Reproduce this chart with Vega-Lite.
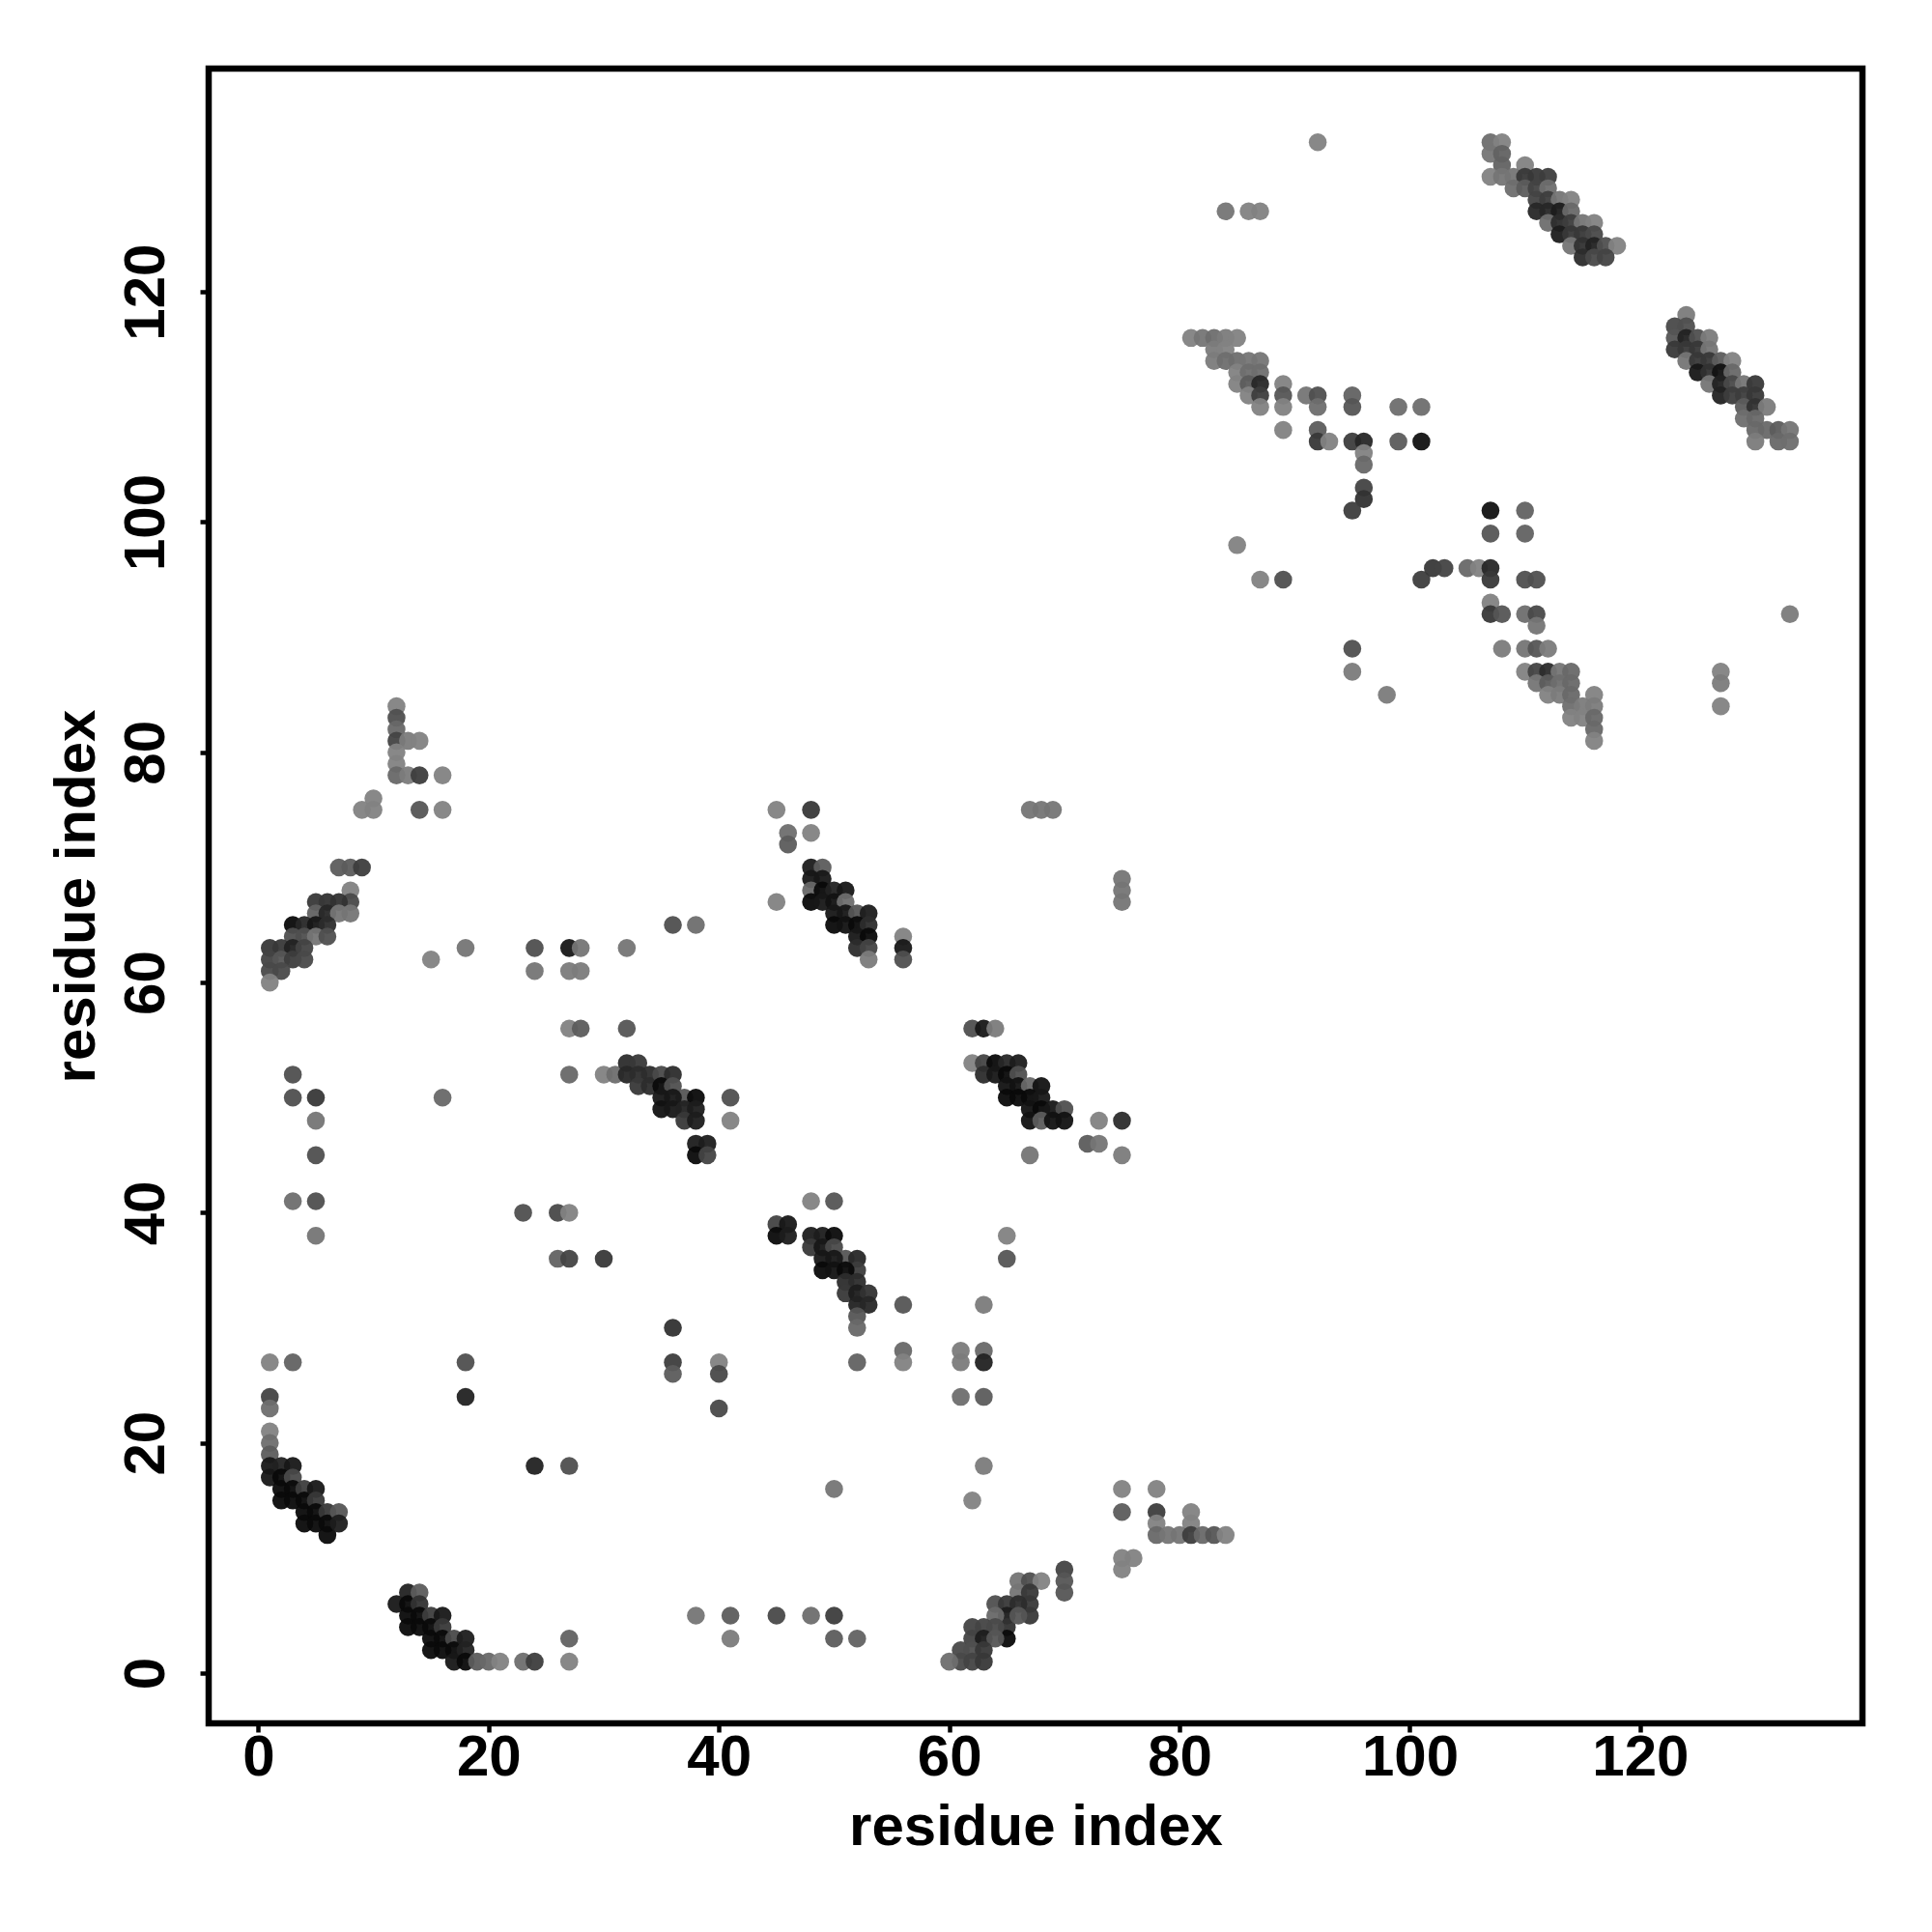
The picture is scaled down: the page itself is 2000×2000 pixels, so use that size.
{"$schema":"https://vega.github.io/schema/vega-lite/v6.json","width":1712,"height":1713,"autosize":{"type":"none"},"padding":{"left":216,"top":71,"right":72,"bottom":216},"background":"white","view":{"stroke":"black","strokeWidth":6.5,"fill":"white"},"config":{"font":"Liberation Sans"},
"data":{"values":[
{"x":1,"y":27,"d":1},{"x":3,"y":27,"d":0.75},{"x":18,"y":27,"d":0.6},{"x":18,"y":24,"d":0.2},{"x":1,"y":24,"d":0.5},{"x":1,"y":23,"d":0.85},{"x":1,"y":21,"d":1},{"x":1,"y":20,"d":0.85},{"x":1,"y":19,"d":0.7},{"x":1,"y":18,"d":0.1},{"x":1,"y":17,"d":0.1},{"x":2,"y":18,"d":0.2},{"x":3,"y":18,"d":0.1},{"x":2,"y":17,"d":0},{"x":2,"y":16,"d":0},{"x":2,"y":15,"d":0},{"x":3,"y":17,"d":0.55},{"x":3,"y":16,"d":0},{"x":3,"y":15,"d":0},{"x":4,"y":16,"d":0.45},{"x":4,"y":15,"d":0},{"x":4,"y":14,"d":0},{"x":4,"y":13,"d":0},{"x":5,"y":16,"d":0.1},{"x":5,"y":15,"d":0.4},{"x":5,"y":14,"d":0},{"x":5,"y":13,"d":0},{"x":6,"y":14,"d":0.4},{"x":6,"y":13,"d":0},{"x":6,"y":12,"d":0},{"x":7,"y":14,"d":0.65},{"x":7,"y":13,"d":0.15},{"x":24,"y":18,"d":0.2},{"x":27,"y":18,"d":0.6},
{"x":12,"y":6,"d":0.1},{"x":13,"y":7,"d":0.2},{"x":13,"y":6,"d":0},{"x":13,"y":5,"d":0},{"x":13,"y":4,"d":0},{"x":14,"y":7,"d":0.7},{"x":14,"y":6,"d":0.35},{"x":14,"y":5,"d":0},{"x":14,"y":4,"d":0},{"x":15,"y":5,"d":0.45},{"x":15,"y":4,"d":0},{"x":15,"y":3,"d":0},{"x":15,"y":2,"d":0},{"x":16,"y":5,"d":0.1},{"x":16,"y":4,"d":0.4},{"x":16,"y":3,"d":0},{"x":16,"y":2,"d":0},{"x":17,"y":3,"d":0.55},{"x":17,"y":2,"d":0},{"x":17,"y":1,"d":0.1},{"x":18,"y":3,"d":0.15},{"x":18,"y":2,"d":0.2},{"x":18,"y":1,"d":0},{"x":19,"y":1,"d":0.7},{"x":20,"y":1,"d":0.8},{"x":21,"y":1,"d":1},{"x":23,"y":1,"d":0.85},{"x":24,"y":1,"d":0.45},{"x":27,"y":3,"d":0.75},{"x":27,"y":1,"d":1},
{"x":65,"y":38,"d":1},{"x":65,"y":36,"d":0.65},{"x":56,"y":32,"d":0.65},{"x":63,"y":32,"d":0.95},{"x":56,"y":28,"d":0.8},{"x":56,"y":27,"d":1},{"x":61,"y":28,"d":0.95},{"x":61,"y":27,"d":0.95},{"x":63,"y":28,"d":0.8},{"x":63,"y":27,"d":0.2},{"x":61,"y":24,"d":0.85},{"x":63,"y":24,"d":0.7},{"x":63,"y":18,"d":0.95},{"x":62,"y":15,"d":1},{"x":75,"y":16,"d":1},{"x":78,"y":16,"d":1},{"x":75,"y":14,"d":0.7},{"x":78,"y":14,"d":0.45},{"x":81,"y":14,"d":1},{"x":78,"y":13,"d":1},{"x":81,"y":13,"d":1},{"x":78,"y":12,"d":0.8},{"x":79,"y":12,"d":0.9},{"x":80,"y":12,"d":0.9},{"x":81,"y":12,"d":0.45},{"x":82,"y":12,"d":0.8},{"x":83,"y":12,"d":0.65},{"x":84,"y":12,"d":1},{"x":75,"y":10,"d":1},{"x":76,"y":10,"d":1},{"x":75,"y":9,"d":1},{"x":70,"y":9,"d":0.5},{"x":70,"y":8,"d":0.65},{"x":70,"y":7,"d":0.65},{"x":66,"y":8,"d":0.9},{"x":67,"y":8,"d":0.6},{"x":68,"y":8,"d":1},{"x":66,"y":7,"d":0.9},{"x":67,"y":7,"d":0.4},{"x":67,"y":6,"d":0.4},{"x":67,"y":5,"d":0.4},{"x":64,"y":6,"d":0.6},{"x":65,"y":6,"d":0.4},{"x":66,"y":6,"d":0.3},{"x":65,"y":5,"d":0.15},{"x":65,"y":4,"d":0.35},{"x":65,"y":3,"d":0},{"x":66,"y":5,"d":0.65},{"x":64,"y":5,"d":0.8},{"x":62,"y":4,"d":0.5},{"x":63,"y":4,"d":0.5},{"x":64,"y":4,"d":0.55},{"x":62,"y":3,"d":0.5},{"x":63,"y":3,"d":0.15},{"x":64,"y":3,"d":0.65},{"x":61,"y":2,"d":0.55},{"x":62,"y":2,"d":0.6},{"x":63,"y":2,"d":0.4},{"x":61,"y":1,"d":0.55},{"x":62,"y":1,"d":0.5},{"x":63,"y":1,"d":0.4},{"x":60,"y":1,"d":0.85},{"x":50,"y":16,"d":0.9},
{"x":27,"y":56,"d":1},{"x":28,"y":56,"d":0.7},{"x":32,"y":56,"d":0.65},{"x":27,"y":52,"d":0.8},{"x":30,"y":52,"d":1},{"x":31,"y":52,"d":0.85},{"x":32,"y":53,"d":0.3},{"x":33,"y":53,"d":0.4},{"x":32,"y":52,"d":0.25},{"x":33,"y":52,"d":0.3},{"x":34,"y":52,"d":0.3},{"x":33,"y":51,"d":0.4},{"x":34,"y":51,"d":0.3},{"x":35,"y":52,"d":0.55},{"x":36,"y":52,"d":0.3},{"x":35,"y":51,"d":0},{"x":36,"y":51,"d":0.6},{"x":37,"y":50,"d":0.65},{"x":38,"y":50,"d":0},{"x":35,"y":50,"d":0.1},{"x":36,"y":50,"d":0.1},{"x":35,"y":49,"d":0.05},{"x":36,"y":49,"d":0.1},{"x":37,"y":49,"d":0.2},{"x":38,"y":49,"d":0.15},{"x":37,"y":48,"d":0.4},{"x":38,"y":48,"d":0.15},{"x":41,"y":50,"d":0.6},{"x":41,"y":48,"d":1},{"x":38,"y":46,"d":0.15},{"x":39,"y":46,"d":0.15},{"x":38,"y":45,"d":0},{"x":39,"y":45,"d":0.5},{"x":26,"y":40,"d":0.55},{"x":27,"y":40,"d":1},{"x":26,"y":36,"d":0.75},{"x":27,"y":36,"d":0.5},{"x":30,"y":36,"d":0.4},{"x":48,"y":41,"d":1},{"x":50,"y":41,"d":0.65},{"x":45,"y":39,"d":0.5},{"x":46,"y":39,"d":0.1},{"x":45,"y":38,"d":0},{"x":46,"y":38,"d":0.15},{"x":48,"y":38,"d":0.15},{"x":49,"y":38,"d":0.15},{"x":50,"y":38,"d":0},{"x":48,"y":37,"d":0.4},{"x":49,"y":37,"d":0.1},{"x":50,"y":37,"d":0.55},{"x":51,"y":36,"d":0.65},{"x":52,"y":36,"d":0.25},{"x":49,"y":36,"d":0.1},{"x":50,"y":36,"d":0.1},{"x":52,"y":35,"d":0.45},{"x":49,"y":35,"d":0},{"x":50,"y":35,"d":0.05},{"x":51,"y":35,"d":0},{"x":51,"y":34,"d":0.3},{"x":52,"y":34,"d":0.3},{"x":51,"y":33,"d":0.4},{"x":52,"y":33,"d":0.15},{"x":53,"y":33,"d":0.35},{"x":52,"y":32,"d":0.2},{"x":53,"y":32,"d":0.25},{"x":52,"y":31,"d":0.65},{"x":52,"y":30,"d":0.8},{"x":52,"y":27,"d":0.75},{"x":36,"y":30,"d":0.35},{"x":36,"y":27,"d":0.45},{"x":36,"y":26,"d":0.7},{"x":40,"y":27,"d":1},{"x":40,"y":26,"d":0.55},{"x":40,"y":23,"d":0.55},
{"x":62,"y":56,"d":0.6},{"x":63,"y":56,"d":0.1},{"x":64,"y":56,"d":0.95},{"x":62,"y":53,"d":1},{"x":63,"y":53,"d":0.5},{"x":64,"y":53,"d":0},{"x":65,"y":53,"d":0.25},{"x":66,"y":53,"d":0.15},{"x":63,"y":52,"d":0.3},{"x":64,"y":52,"d":0.1},{"x":65,"y":52,"d":0},{"x":66,"y":52,"d":0.6},{"x":65,"y":51,"d":0.05},{"x":66,"y":51,"d":0.05},{"x":67,"y":51,"d":0.8},{"x":68,"y":51,"d":0.05},{"x":65,"y":50,"d":0},{"x":66,"y":50,"d":0},{"x":67,"y":50,"d":0},{"x":68,"y":50,"d":0.1},{"x":67,"y":49,"d":0.05},{"x":68,"y":49,"d":0},{"x":69,"y":49,"d":0.1},{"x":70,"y":49,"d":0.6},{"x":67,"y":48,"d":0.05},{"x":68,"y":48,"d":0.7},{"x":69,"y":48,"d":0.05},{"x":70,"y":48,"d":0.05},{"x":73,"y":48,"d":1},{"x":75,"y":48,"d":0.3},{"x":72,"y":46,"d":0.7},{"x":73,"y":46,"d":0.9},{"x":67,"y":45,"d":0.9},{"x":75,"y":45,"d":0.95},
{"x":45,"y":75,"d":1},{"x":48,"y":75,"d":0.4},{"x":46,"y":73,"d":0.85},{"x":48,"y":73,"d":1},{"x":46,"y":72,"d":0.7},{"x":48,"y":70,"d":0.15},{"x":49,"y":70,"d":0.7},{"x":48,"y":69,"d":0.1},{"x":49,"y":69,"d":0.1},{"x":48,"y":68,"d":0.8},{"x":49,"y":68,"d":0},{"x":50,"y":68,"d":0.2},{"x":51,"y":68,"d":0.1},{"x":48,"y":67,"d":0},{"x":49,"y":67,"d":0.1},{"x":50,"y":67,"d":0.05},{"x":51,"y":67,"d":0.85},{"x":50,"y":66,"d":0.1},{"x":51,"y":66,"d":0.1},{"x":52,"y":66,"d":0.65},{"x":53,"y":66,"d":0.15},{"x":50,"y":65,"d":0},{"x":51,"y":65,"d":0.05},{"x":52,"y":65,"d":0},{"x":53,"y":65,"d":0.3},{"x":52,"y":64,"d":0.1},{"x":53,"y":64,"d":0},{"x":52,"y":63,"d":0.3},{"x":53,"y":63,"d":0.5},{"x":53,"y":62,"d":0.95},{"x":56,"y":64,"d":1},{"x":56,"y":63,"d":0.1},{"x":56,"y":62,"d":0.6},{"x":45,"y":67,"d":1},
{"x":12,"y":84,"d":1},{"x":12,"y":83,"d":0.6},{"x":12,"y":82,"d":0.8},{"x":12,"y":81,"d":0.5},{"x":13,"y":81,"d":0.95},{"x":14,"y":81,"d":1},{"x":12,"y":80,"d":1},{"x":12,"y":79,"d":1},{"x":12,"y":78,"d":0.8},{"x":13,"y":78,"d":0.95},{"x":14,"y":78,"d":0.45},{"x":16,"y":78,"d":1},{"x":10,"y":76,"d":1},{"x":9,"y":75,"d":1},{"x":10,"y":75,"d":1},{"x":14,"y":75,"d":0.65},{"x":16,"y":75,"d":1},{"x":7,"y":70,"d":0.7},{"x":8,"y":70,"d":0.7},{"x":9,"y":70,"d":0.45},{"x":8,"y":68,"d":1},{"x":8,"y":67,"d":0.55},{"x":7,"y":67,"d":0.35},{"x":6,"y":67,"d":0.35},{"x":5,"y":67,"d":0.4},{"x":5,"y":66,"d":0.75},{"x":6,"y":66,"d":0.25},{"x":7,"y":66,"d":0.9},{"x":8,"y":66,"d":0.9},{"x":3,"y":65,"d":0},{"x":4,"y":65,"d":0.25},{"x":5,"y":65,"d":0.1},{"x":6,"y":65,"d":0.3},{"x":3,"y":64,"d":0.6},{"x":4,"y":64,"d":0.6},{"x":5,"y":64,"d":0.9},{"x":6,"y":64,"d":0.6},{"x":1,"y":63,"d":0.4},{"x":2,"y":63,"d":0.4},{"x":3,"y":63,"d":0.2},{"x":4,"y":63,"d":0.5},{"x":1,"y":62,"d":0.5},{"x":2,"y":62,"d":0.65},{"x":3,"y":62,"d":0.45},{"x":4,"y":62,"d":0.55},{"x":1,"y":61,"d":0.55},{"x":2,"y":61,"d":0.55},{"x":1,"y":60,"d":1},{"x":15,"y":62,"d":1},{"x":18,"y":63,"d":0.9},
{"x":23,"y":40,"d":0.6},{"x":24,"y":63,"d":0.6},{"x":24,"y":61,"d":0.9},{"x":27,"y":63,"d":0.1},{"x":28,"y":63,"d":0.9},{"x":27,"y":61,"d":0.95},{"x":28,"y":61,"d":0.95},{"x":32,"y":63,"d":0.9},{"x":36,"y":65,"d":0.6},{"x":38,"y":65,"d":0.85},{"x":3,"y":52,"d":0.6},{"x":3,"y":50,"d":0.6},{"x":5,"y":50,"d":0.4},{"x":5,"y":48,"d":0.9},{"x":5,"y":45,"d":0.6},{"x":3,"y":41,"d":0.85},{"x":5,"y":41,"d":0.6},{"x":5,"y":38,"d":0.9},{"x":16,"y":50,"d":0.8},{"x":38,"y":5,"d":0.9},{"x":41,"y":5,"d":0.7},{"x":41,"y":3,"d":0.95},{"x":45,"y":5,"d":0.55},{"x":48,"y":5,"d":0.85},{"x":50,"y":5,"d":0.45},{"x":50,"y":3,"d":0.7},{"x":52,"y":3,"d":0.75},{"x":67,"y":75,"d":0.9},{"x":68,"y":75,"d":0.9},{"x":69,"y":75,"d":0.9},{"x":75,"y":69,"d":0.9},{"x":75,"y":68,"d":0.9},{"x":75,"y":67,"d":0.9},
{"x":81,"y":116,"d":1},{"x":82,"y":116,"d":0.9},{"x":83,"y":116,"d":0.85},{"x":84,"y":116,"d":0.95},{"x":85,"y":116,"d":1},{"x":83,"y":115,"d":0.95},{"x":84,"y":115,"d":1},{"x":83,"y":114,"d":0.95},{"x":84,"y":114,"d":0.85},{"x":85,"y":114,"d":0.85},{"x":86,"y":114,"d":0.9},{"x":87,"y":114,"d":0.9},{"x":85,"y":113,"d":1},{"x":86,"y":113,"d":0.85},{"x":87,"y":113,"d":0.85},{"x":85,"y":112,"d":1},{"x":86,"y":112,"d":0.7},{"x":87,"y":112,"d":0.25},{"x":86,"y":111,"d":1},{"x":87,"y":111,"d":0.45},{"x":87,"y":110,"d":1},{"x":89,"y":112,"d":1},{"x":89,"y":111,"d":0.65},{"x":89,"y":110,"d":1},{"x":91,"y":111,"d":0.9},{"x":92,"y":111,"d":0.6},{"x":92,"y":110,"d":0.85},{"x":95,"y":111,"d":0.75},{"x":95,"y":110,"d":0.65},{"x":99,"y":110,"d":0.85},{"x":101,"y":110,"d":0.85},{"x":89,"y":108,"d":1},{"x":92,"y":108,"d":0.7},{"x":92,"y":107,"d":0.4},{"x":93,"y":107,"d":1},{"x":95,"y":107,"d":0.45},{"x":96,"y":107,"d":0.25},{"x":99,"y":107,"d":0.7},{"x":101,"y":107,"d":0.05},{"x":96,"y":106,"d":1},{"x":96,"y":105,"d":0.8},{"x":96,"y":103,"d":0.5},{"x":96,"y":102,"d":0.35},{"x":95,"y":101,"d":0.45},{"x":85,"y":98,"d":1},{"x":87,"y":95,"d":1},{"x":89,"y":95,"d":0.6},{"x":101,"y":95,"d":0.45},{"x":102,"y":96,"d":0.4},{"x":103,"y":96,"d":0.5},
{"x":107,"y":101,"d":0.05},{"x":110,"y":101,"d":0.75},{"x":107,"y":99,"d":0.65},{"x":110,"y":99,"d":0.75},{"x":105,"y":96,"d":0.8},{"x":106,"y":96,"d":1},{"x":107,"y":96,"d":0.25},{"x":107,"y":95,"d":0.4},{"x":110,"y":95,"d":0.6},{"x":111,"y":95,"d":0.6},{"x":107,"y":93,"d":1},{"x":107,"y":92,"d":0.4},{"x":108,"y":92,"d":0.65},{"x":110,"y":92,"d":0.85},{"x":111,"y":92,"d":0.55},{"x":111,"y":91,"d":0.9},{"x":108,"y":89,"d":0.95},{"x":110,"y":89,"d":0.9},{"x":111,"y":89,"d":0.65},{"x":112,"y":89,"d":0.95},{"x":110,"y":87,"d":1},{"x":111,"y":87,"d":0.5},{"x":112,"y":87,"d":0.3},{"x":113,"y":87,"d":0.9},{"x":114,"y":87,"d":0.8},{"x":111,"y":86,"d":0.9},{"x":112,"y":86,"d":0.7},{"x":113,"y":86,"d":0.85},{"x":114,"y":86,"d":0.8},{"x":112,"y":85,"d":1},{"x":113,"y":85,"d":0.95},{"x":114,"y":85,"d":0.8},{"x":116,"y":85,"d":1},{"x":114,"y":84,"d":0.85},{"x":115,"y":84,"d":0.95},{"x":116,"y":84,"d":0.95},{"x":114,"y":83,"d":1},{"x":115,"y":83,"d":1},{"x":116,"y":83,"d":0.8},{"x":116,"y":82,"d":0.8},{"x":116,"y":81,"d":1},{"x":95,"y":89,"d":0.6},{"x":95,"y":87,"d":0.95},{"x":98,"y":85,"d":0.95},{"x":127,"y":87,"d":1},{"x":127,"y":86,"d":0.95},{"x":127,"y":84,"d":1},{"x":133,"y":92,"d":0.95},{"x":92,"y":133,"d":1},{"x":84,"y":127,"d":0.9},{"x":86,"y":127,"d":1},{"x":87,"y":127,"d":1},
{"x":107,"y":133,"d":0.85},{"x":108,"y":133,"d":1},{"x":107,"y":132,"d":0.9},{"x":108,"y":132,"d":0.75},{"x":108,"y":131,"d":0.75},{"x":110,"y":131,"d":1},{"x":107,"y":130,"d":1},{"x":108,"y":130,"d":0.9},{"x":109,"y":130,"d":0.9},{"x":110,"y":130,"d":0.4},{"x":111,"y":130,"d":0.4},{"x":112,"y":130,"d":0.45},{"x":109,"y":129,"d":0.85},{"x":110,"y":129,"d":0.7},{"x":111,"y":129,"d":0.5},{"x":112,"y":129,"d":0.85},{"x":111,"y":128,"d":0.5},{"x":112,"y":128,"d":0.45},{"x":113,"y":128,"d":0.9},{"x":114,"y":128,"d":1},{"x":111,"y":127,"d":0.25},{"x":112,"y":127,"d":0.25},{"x":113,"y":127,"d":0.15},{"x":114,"y":127,"d":0.8},{"x":112,"y":126,"d":0.85},{"x":113,"y":126,"d":0.3},{"x":114,"y":126,"d":0.45},{"x":115,"y":126,"d":0.9},{"x":116,"y":126,"d":1},{"x":113,"y":125,"d":0.15},{"x":114,"y":125,"d":0.4},{"x":115,"y":125,"d":0.4},{"x":116,"y":125,"d":0.55},{"x":114,"y":124,"d":0.9},{"x":115,"y":124,"d":0.35},{"x":116,"y":124,"d":0.2},{"x":117,"y":124,"d":0.6},{"x":118,"y":124,"d":1},{"x":115,"y":123,"d":0.3},{"x":116,"y":123,"d":0.55},{"x":117,"y":123,"d":0.5},
{"x":124,"y":118,"d":0.95},{"x":123,"y":117,"d":0.55},{"x":124,"y":117,"d":0.6},{"x":123,"y":116,"d":0.65},{"x":124,"y":116,"d":0.2},{"x":125,"y":116,"d":0.6},{"x":126,"y":116,"d":0.95},{"x":123,"y":115,"d":0.4},{"x":124,"y":115,"d":0.4},{"x":125,"y":115,"d":0.4},{"x":126,"y":115,"d":0.9},{"x":124,"y":114,"d":0.9},{"x":125,"y":114,"d":0.4},{"x":126,"y":114,"d":0.4},{"x":127,"y":114,"d":0.7},{"x":128,"y":114,"d":1},{"x":125,"y":113,"d":0.1},{"x":126,"y":113,"d":0.35},{"x":127,"y":113,"d":0.05},{"x":128,"y":113,"d":0.8},{"x":126,"y":112,"d":0.9},{"x":127,"y":112,"d":0.2},{"x":128,"y":112,"d":0.55},{"x":129,"y":112,"d":0.9},{"x":130,"y":112,"d":0.4},{"x":127,"y":111,"d":0.2},{"x":128,"y":111,"d":0.45},{"x":129,"y":111,"d":0.45},{"x":130,"y":111,"d":0.4},{"x":129,"y":110,"d":0.7},{"x":130,"y":110,"d":0.35},{"x":131,"y":110,"d":0.95},{"x":129,"y":109,"d":0.85},{"x":130,"y":109,"d":0.8},{"x":130,"y":108,"d":0.8},{"x":131,"y":108,"d":0.8},{"x":132,"y":108,"d":0.7},{"x":133,"y":108,"d":0.9},{"x":130,"y":107,"d":0.95},{"x":132,"y":107,"d":0.8},{"x":133,"y":107,"d":0.85}
]},
"mark":{"type":"point","shape":"circle","filled":true,"opacity":0.95,"size":345,"strokeWidth":0},
"encoding":{
"x":{"field":"x","type":"quantitative","scale":{"domain":[-4.31,139.3],"nice":false,"zero":false},"axis":{"title":"residue index","values":[0,20,40,60,80,100,120],"grid":false,"domain":false,"tickColor":"black","tickWidth":4.5,"tickSize":9,"labelFont":"Liberation Sans","labelFontWeight":"bold","labelFontSize":60,"labelColor":"black","labelPadding":-3,"labelFlush":false,"titleFont":"Liberation Sans","titleFontWeight":"bold","titleFontSize":60,"titleColor":"black","titlePadding":13}},
"y":{"field":"y","type":"quantitative","scale":{"domain":[-4.36,139.4],"nice":false,"zero":false},"axis":{"title":"residue index","values":[0,20,40,60,80,100,120],"grid":false,"domain":false,"tickColor":"black","tickWidth":4.5,"tickSize":9,"labelFont":"Liberation Sans","labelFontWeight":"bold","labelFontSize":60,"labelColor":"black","labelAngle":-90,"labelAlign":"center","labelBaseline":"bottom","labelPadding":25,"labelFlush":false,"titleFont":"Liberation Sans","titleFontWeight":"bold","titleFontSize":60,"titleColor":"black","titlePadding":11}},
"color":{"field":"d","type":"quantitative","legend":null,"scale":{"domain":[0,1],"range":["#0a0a0a","#828282"]}},
"order":[{"field":"x","sort":"ascending"},{"field":"y","sort":"ascending"}]
}}
